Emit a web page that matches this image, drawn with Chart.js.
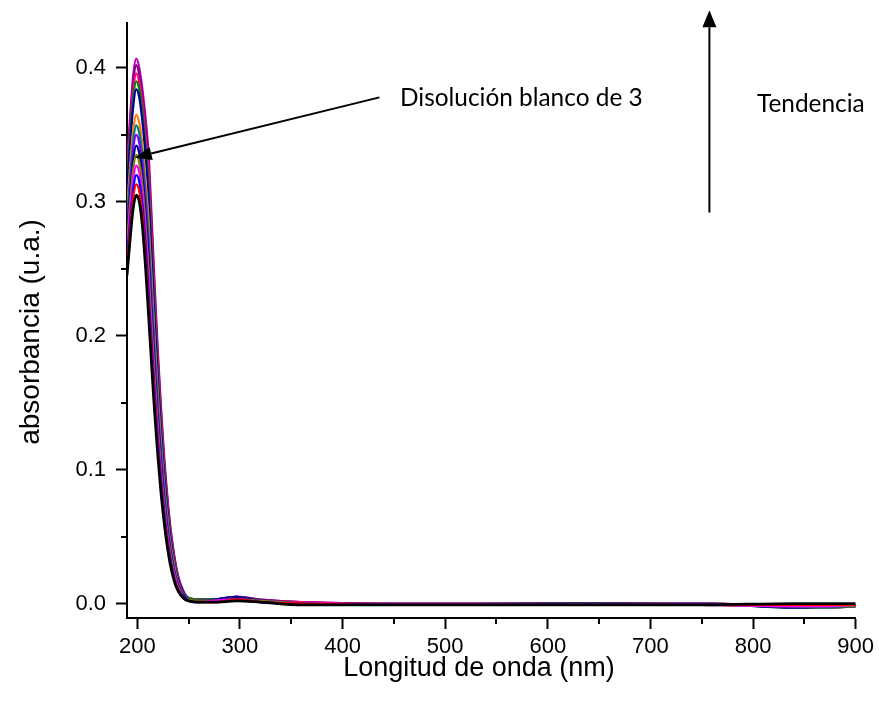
<!DOCTYPE html>
<html>
<head>
<meta charset="utf-8">
<script src="https://cdn.jsdelivr.net/npm/chart.js@4/dist/chart.umd.min.js"></script>
<style>
  html, body { margin: 0; padding: 0; background: #fff; }
  #wrap { width: 879px; height: 715px; }
</style>
</head>
<body>
<div id="wrap"><canvas id="c" width="879" height="715"></canvas></div>
<script>
// Wavelength grid (nm) shared by every scan
const wavelengths = [190,193,196,199,202,205,208,211,214,217,220,223,226,229,232,236,240,245,250,
                     260,275,297,320,360,450,600,750,840,870,900];

// Absorbance of each successive scan (u.a.)
const scan01 = [.245,.272,.295,.305,.300,.282,.252,.216,.178,.142,.111,.084,.062,.044,.030,.017,.009,.004,.002, .001,.001,.002,.001,-.001,-.001,-.001,-.001,.000,.000,.000];
const scan02 = [.251,.279,.303,.313,.308,.290,.260,.224,.186,.149,.116,.088,.065,.047,.032,.018,.010,.004,.002, .001,.001,.003,.001,.000,-.001,-.001,-.001,-.001,-.001,-.001];
const scan03 = [.257,.285,.309,.320,.315,.297,.268,.232,.193,.155,.121,.093,.069,.049,.034,.019,.010,.005,.002, .001,.001,.003,.001,.000,-.001,-.001,-.001,-.001,-.001,-.001];
const scan04 = [.263,.292,.316,.327,.322,.304,.275,.240,.200,.161,.127,.097,.072,.052,.036,.021,.011,.005,.002, .001,.002,.003,.001,.000,-.001,-.001,-.001,-.002,-.002,-.001];
const scan05 = [.269,.299,.324,.335,.329,.312,.283,.249,.208,.168,.132,.101,.076,.054,.038,.022,.012,.005,.003, .002,.002,.003,.002,.000,-.001,-.001,-.001,-.002,-.002,-.002];
const scan06 = [.275,.305,.331,.342,.336,.319,.291,.258,.216,.175,.138,.106,.079,.057,.040,.023,.013,.006,.003, .002,.002,.004,.002,.000,-.001,-.001,-.001,-.002,-.002,-.002];
const scan07 = [.281,.312,.339,.350,.344,.327,.300,.267,.225,.182,.144,.111,.083,.060,.042,.025,.014,.006,.003, .002,.002,.004,.002,.000,-.001,-.001,.000,-.002,-.002,-.002];
const scan08 = [.287,.318,.345,.357,.351,.334,.307,.275,.232,.189,.149,.115,.086,.063,.044,.026,.014,.007,.003, .002,.002,.004,.002,.000,-.001,-.001,.000,-.002,-.003,-.002];
const scan09 = [.293,.326,.353,.365,.359,.342,.316,.285,.241,.196,.156,.120,.090,.066,.046,.028,.015,.007,.003, .002,.002,.004,.002,.000,-.001,-.001,.000,-.002,-.003,-.002];
const scan10 = [.308,.342,.371,.384,.378,.360,.335,.303,.257,.210,.167,.129,.097,.071,.050,.030,.017,.008,.003, .002,.003,.005,.002,.000,-.001,.000,.000,-.003,-.003,-.002];
const scan11 = [.313,.348,.377,.390,.384,.367,.342,.312,.265,.217,.172,.134,.101,.074,.052,.032,.017,.008,.004, .003,.003,.005,.002,.000,-.001,.000,.000,-.003,-.003,-.002];
const scan12 = [.318,.353,.383,.396,.389,.373,.349,.320,.273,.224,.178,.139,.105,.077,.054,.033,.018,.008,.004, .003,.003,.005,.002,.001,-.001,.000,.000,-.002,-.002,-.002];
const scan13 = [.323,.358,.389,.402,.395,.379,.357,.328,.281,.231,.184,.144,.108,.080,.057,.035,.019,.009,.004, .003,.003,.005,.003,.001,.000,.000,.000,-.002,-.003,-.002];
const scan14 = [.327,.363,.394,.407,.400,.384,.363,.336,.288,.237,.189,.148,.112,.083,.059,.036,.020,.009,.004, .003,.003,.005,.003,.001,.000,.000,.000,-.002,-.002,-.002];

const scans = [scan01, scan02, scan03, scan04, scan05, scan06, scan07,
               scan08, scan09, scan10, scan11, scan12, scan13, scan14];
const scanColors = ['#000000','#FF0000','#0000FF','#FF00FF','#808000','#000080','#8000FF',
                    '#008080','#FF8000','#0000A0','#008000','#FF0080','#800080','#C000C0'];

// Axis ticks
const xMajorTicks = [200,300,400,500,600,700,800,900];
const xMinorTicks = [250,350,450,550,650,750,850];
const yMajorTicks = [0.0,0.1,0.2,0.3,0.4];
const yMinorTicks = [0.05,0.15,0.25,0.35];

const xTitle = 'Longitud de onda (nm)';
const yTitle = 'absorbancia (u.a.)';
const noteLabel = 'Disolución blanco de 3';
const trendLabel = 'Tendencia';

const datasets = scans.map((vals, i) => ({
  label: 'scan ' + (i + 1),
  data: wavelengths.map((w, j) => ({ x: w, y: vals[j] })),
  borderColor: scanColors[i],
  borderWidth: i === 0 ? 2.8 : 2.3,
  pointRadius: 0,
  fill: false,
  cubicInterpolationMode: 'monotone'
}));

function arrow(ctx, x1, y1, x2, y2, headLen, headW) {
  const a = Math.atan2(y2 - y1, x2 - x1);
  const bx = x2 - headLen * Math.cos(a), by = y2 - headLen * Math.sin(a);
  ctx.beginPath();
  ctx.moveTo(x1, y1);
  ctx.lineTo(bx, by);
  ctx.stroke();
  ctx.beginPath();
  ctx.moveTo(x2, y2);
  ctx.lineTo(bx + headW / 2 * Math.sin(a), by - headW / 2 * Math.cos(a));
  ctx.lineTo(bx - headW / 2 * Math.sin(a), by + headW / 2 * Math.cos(a));
  ctx.closePath();
  ctx.fill();
}

const decor = {
  id: 'decor',
  afterDraw(chart) {
    const { ctx, scales: { x, y } } = chart;
    ctx.save();
    ctx.strokeStyle = '#000';
    ctx.fillStyle = '#000';
    ctx.lineWidth = 2;
    // minor ticks
    xMinorTicks.forEach(v => {
      const px = Math.round(x.getPixelForValue(v));
      ctx.beginPath(); ctx.moveTo(px, y.bottom); ctx.lineTo(px, y.bottom + 6); ctx.stroke();
    });
    yMinorTicks.forEach(v => {
      const py = Math.round(y.getPixelForValue(v));
      ctx.beginPath(); ctx.moveTo(x.left, py); ctx.lineTo(x.left - 6, py); ctx.stroke();
    });
    // axis titles
    ctx.textAlign = 'center';
    ctx.textBaseline = 'middle';
    ctx.font = '27px "Liberation Sans", Arial, sans-serif';
    ctx.fillText(xTitle, 479, 669);
    ctx.save();
    ctx.translate(31, 332);
    ctx.rotate(-Math.PI / 2);
    ctx.font = '28px "Liberation Sans", Arial, sans-serif';
    ctx.fillText(yTitle, 0, 0);
    ctx.restore();
    // annotations
    ctx.font = '24.4px Lato, "Open Sans", sans-serif';
    ctx.textAlign = 'left';
    ctx.textBaseline = 'alphabetic';
    ctx.fillText(noteLabel, 400, 106);
    ctx.fillText(trendLabel, 757, 112);
    ctx.lineWidth = 2;
    arrow(ctx, x.getPixelForValue(436), y.getPixelForValue(0.378),
               x.getPixelForValue(197.5), y.getPixelForValue(0.333), 17, 13);
    arrow(ctx, x.getPixelForValue(757.5), y.getPixelForValue(0.292),
               x.getPixelForValue(757.5), y.getPixelForValue(0.443), 17, 14);
    ctx.restore();
  }
};

new Chart(document.getElementById('c'), {
  type: 'line',
  data: { datasets },
  options: {
    responsive: false,
    animation: false,
    events: [],
    layout: { padding: { left: 0, right: 23, top: 20, bottom: 0 } },
    plugins: { legend: { display: false }, tooltip: { enabled: false } },
    scales: {
      x: {
        type: 'linear',
        min: 190, max: 900,
        afterFit: s => { s.height = 97; },
        afterBuildTicks: s => { s.ticks = xMajorTicks.map(v => ({ value: v })); },
        grid: { display: true, drawOnChartArea: false, drawTicks: true, tickLength: 11, tickWidth: 2, tickColor: '#000' },
        border: { display: true, color: '#000', width: 2 },
        ticks: { color: '#000', font: { family: '"Liberation Sans", Arial, sans-serif', size: 22 }, padding: 5, maxRotation: 0 }
      },
      y: {
        type: 'linear',
        min: -0.0108, max: 0.4334,
        afterFit: s => { s.width = 127; },
        afterBuildTicks: s => { s.ticks = yMajorTicks.map(v => ({ value: v })); },
        grid: { display: true, drawOnChartArea: false, drawTicks: true, tickLength: 11, tickWidth: 2, tickColor: '#000' },
        border: { display: true, color: '#000', width: 2 },
        ticks: { color: '#000', font: { family: '"Liberation Sans", Arial, sans-serif', size: 22 }, padding: 10,
                 callback: v => v.toFixed(1) }
      }
    }
  },
  plugins: [decor]
});
</script>
</body>
</html>
